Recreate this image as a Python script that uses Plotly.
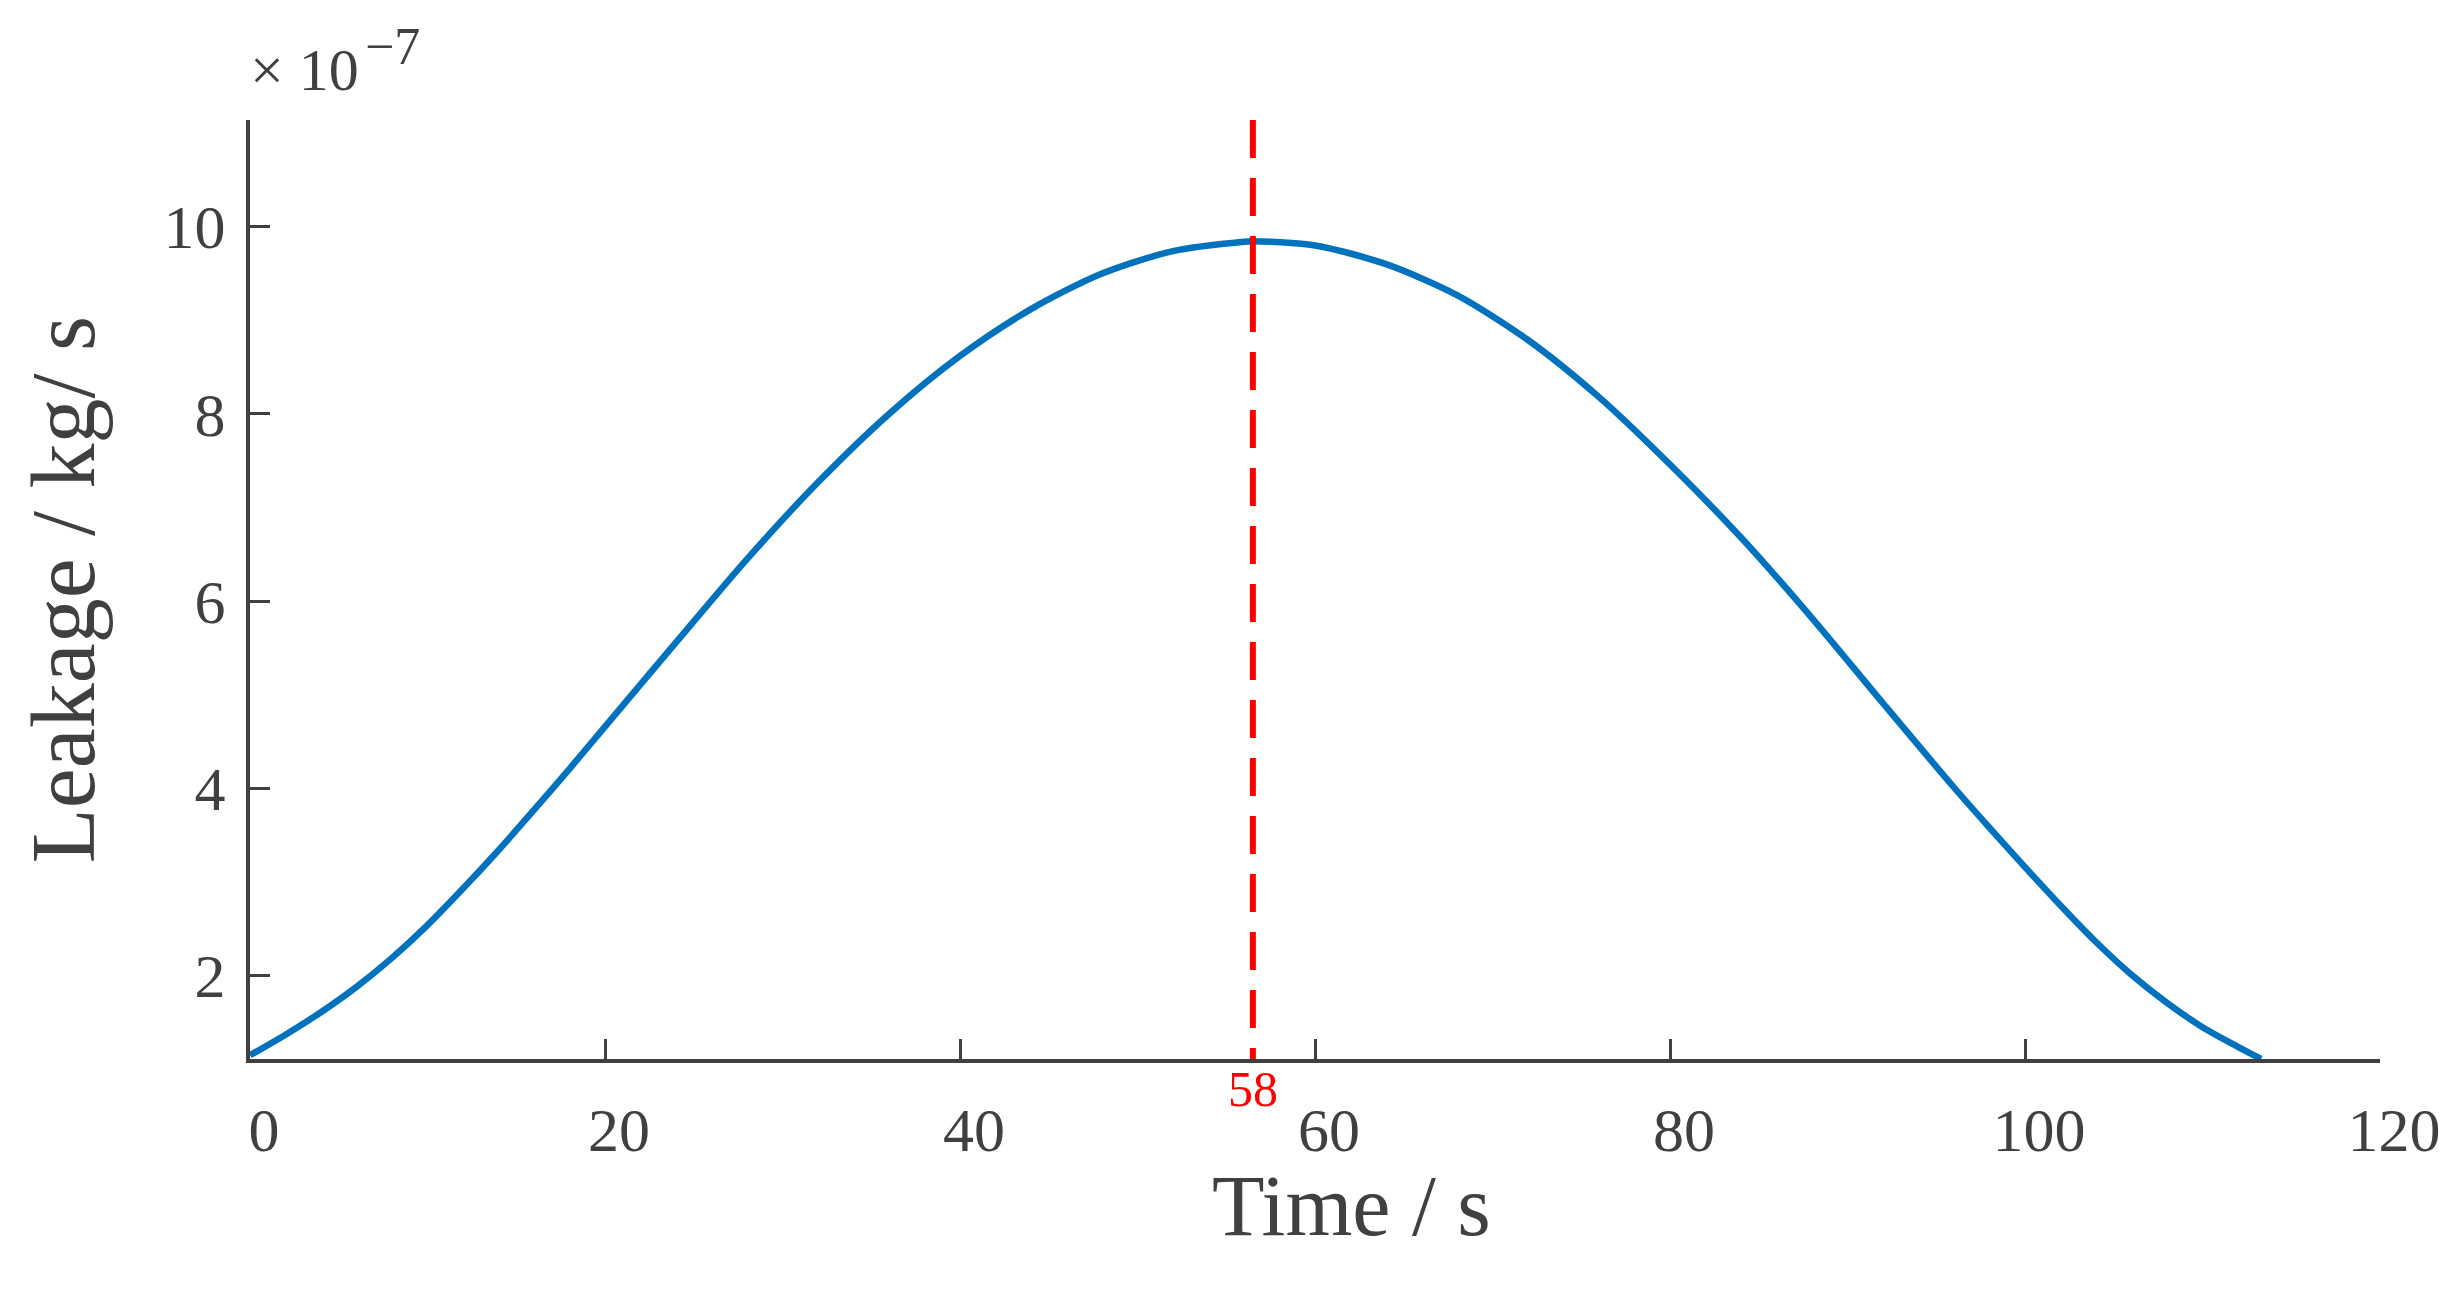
import plotly.graph_objects as go

# Data (time in s, leakage in 1e-7 kg/s)
time_s = [0, 2, 4, 6, 8, 10, 12, 14, 16, 18, 20, 24, 28, 32, 36, 40, 44, 48, 52, 56, 56.5,
          60, 64, 68, 72, 76, 80, 84, 88, 92, 96, 98, 100, 102, 104, 106, 108, 110, 112, 113.3]
leakage_e7 = [1.15, 1.37, 1.61, 1.88, 2.19, 2.54, 2.93, 3.34, 3.77, 4.21, 4.66, 5.56,
              6.45, 7.27, 8.00, 8.62, 9.12, 9.50, 9.74, 9.84, 9.845,
              9.80, 9.60, 9.27, 8.79, 8.18, 7.46, 6.68, 5.82, 4.91, 4.01, 3.58, 3.16,
              2.75, 2.36, 2.01, 1.71, 1.45, 1.24, 1.11]
peak_time = 56.5
peak_label = "58"
x_ticks = [0, 20, 40, 60, 80, 100, 120]
y_ticks = [2, 4, 6, 8, 10]
x_range = [0, 120]
y_range = [1.11, 11.14]

FONT = "Liberation Serif"
AXC = "#404040"

fig = go.Figure()
fig.add_trace(go.Scatter(x=time_s, y=leakage_e7, mode="lines",
                         line=dict(color="#0072BD", width=6.5, shape="spline", smoothing=0.8),
                         showlegend=False, hoverinfo="skip"))
fig.add_trace(go.Scatter(x=[peak_time, peak_time], y=[y_range[1], y_range[0] - 0.08],
                         mode="lines", line=dict(color="#FF0000", width=6, dash="38px,20px"),
                         showlegend=False, hoverinfo="skip", cliponaxis=False))

fig.add_annotation(x=peak_time, y=0, xref="x", yref="paper", text=peak_label,
                   showarrow=False, yanchor="top", yshift=0,
                   font=dict(family=FONT, size=50, color="#FF0000"))
fig.add_annotation(x=-0.001, y=1.053, xref="paper", yref="paper",
                   text="× 10", showarrow=False,
                   xanchor="left", yanchor="middle",
                   font=dict(family=FONT, size=60, color=AXC))
fig.add_annotation(x=0.053, y=1.078, xref="paper", yref="paper",
                   text="−7", showarrow=False,
                   xanchor="left", yanchor="middle",
                   font=dict(family=FONT, size=52, color=AXC))
fig.add_annotation(x=0.517, y=-0.157, xref="paper", yref="paper",
                   text="Time / s", showarrow=False,
                   xanchor="center", yanchor="middle",
                   font=dict(family=FONT, size=86, color=AXC))

fig.update_xaxes(range=x_range, tickvals=x_ticks, ticks="inside", ticklen=20,
                 tickwidth=3, tickcolor=AXC, showline=True, linecolor=AXC, linewidth=4,
                 showgrid=False, zeroline=False, ticklabelshift=14, ticklabelstandoff=14,
                 tickfont=dict(family=FONT, size=62, color=AXC))
fig.update_yaxes(range=y_range, tickvals=y_ticks, ticks="inside", ticklen=20,
                 tickwidth=3, tickcolor=AXC, showline=True, linecolor=AXC, linewidth=4,
                 showgrid=False, zeroline=False, ticklabelstandoff=8,
                 tickfont=dict(family=FONT, size=62, color=AXC),
                 title=dict(text="Leakage / kg/ s", font=dict(family=FONT, size=90, color=AXC), standoff=40))

fig.update_layout(width=2449, height=1295, plot_bgcolor="white", paper_bgcolor="white",
                  margin=dict(l=242, r=77, t=112, b=244))
fig.write_html("out.html")
